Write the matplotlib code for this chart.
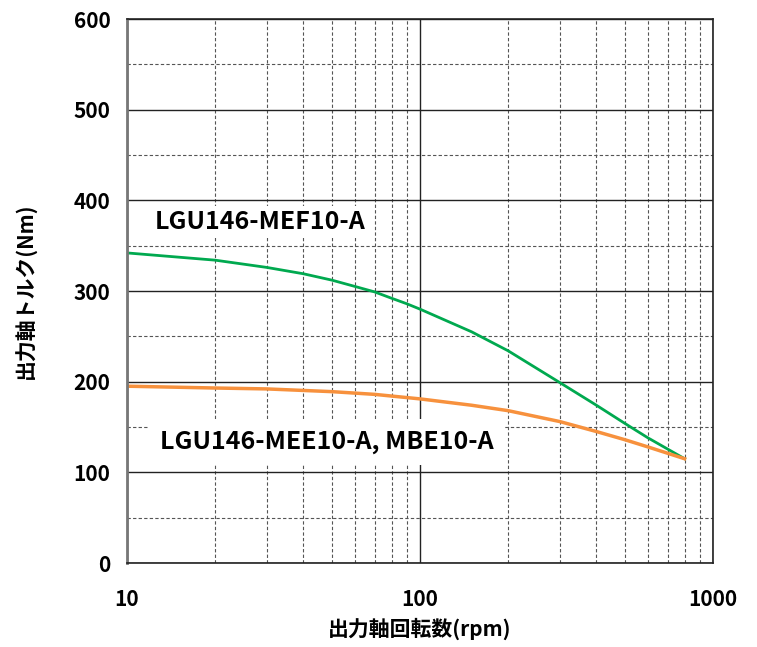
import numpy as np
import matplotlib.pyplot as plt
from matplotlib.ticker import FixedLocator, NullFormatter

plt.rcParams['font.family'] = ['Noto Sans CJK JP', 'DejaVu Sans']
plt.rcParams['font.weight'] = 'bold'

# LGU146-MEF10-A
rpm_mef = [10, 20, 30, 40, 50, 60, 70, 80, 90, 100, 150, 200, 300, 400, 500, 600, 800]
torque_mef = [342, 334, 326, 319, 312, 305, 299, 292, 286, 280, 255, 234, 199, 174, 154, 138, 115]

# LGU146-MEE10-A, MBE10-A
rpm_mee = [10, 20, 30, 50, 70, 100, 150, 200, 300, 400, 500, 600, 800]
torque_mee = [195, 193, 192, 189, 186, 181, 174, 168, 156, 145, 136, 128, 115]

fig = plt.figure(figsize=(7.57, 6.47), dpi=100)
ax = fig.add_axes([127 / 757, 84 / 647, 586 / 757, 544 / 647])

ax.plot(rpm_mef, torque_mef, color='#00a94f', lw=2)
ax.plot(rpm_mee, torque_mee, color='#f7913d', lw=2.5)

ax.set_xscale('log')
ax.set_xlim(10, 1000)
ax.set_ylim(0, 600)
ax.xaxis.set_major_locator(FixedLocator([10, 100, 1000]))
ax.xaxis.set_minor_locator(FixedLocator([k * d for d in (10, 100) for k in range(2, 10)]))
ax.xaxis.set_minor_formatter(NullFormatter())
ax.set_xticklabels(['10', '100', '1000'])
ax.set_yticks(range(0, 601, 100))
ax.set_yticks(range(50, 600, 100), minor=True)

ax.grid(which='major', color='#222222', lw=1, ls='-')
ax.grid(which='minor', color='#555555', lw=0.8, ls=(0, (3, 2)))
ax.set_axisbelow(True)
ax.tick_params(which='both', length=0, labelsize=15)
ax.tick_params(axis='x', pad=19)
ax.tick_params(axis='y', pad=12)
for lab in ax.get_xticklabels() + ax.get_yticklabels():
    lab.set_fontweight('bold')
for s in ax.spines.values():
    s.set_color('#222222')
    s.set_linewidth(1.2)
ax.spines['left'].set_color('#777777')
ax.spines['left'].set_linewidth(2)

ax.text(12.4, 376, 'LGU146-MEF10-A', fontsize=18, fontweight='bold', va='center',
        bbox=dict(facecolor='white', edgecolor='none', pad=3))
ax.text(13.0, 133, 'LGU146-MEE10-A, MBE10-A', fontsize=18, fontweight='bold', va='center',
        bbox=dict(facecolor='white', edgecolor='none', pad=8))

ax.set_xlabel('出力軸回転数(rpm)', fontsize=15, fontweight='bold', labelpad=5)
ax.set_ylabel('出力軸トルク(Nm)', fontsize=15, fontweight='bold', labelpad=26)

plt.savefig('out.png', dpi=100)
